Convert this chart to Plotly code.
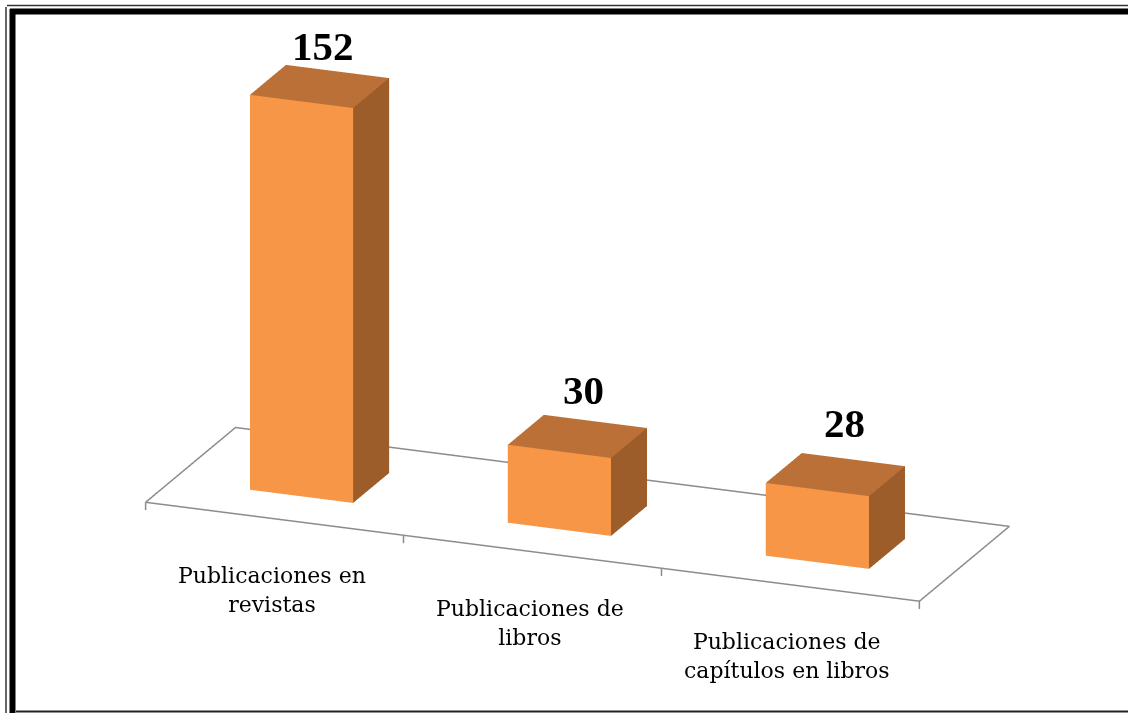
import plotly.graph_objects as go

# ---- data ----
categories = ["Publicaciones en<br>revistas", "Publicaciones de<br>libros",
              "Publicaciones de<br>capítulos en libros"]
values = [152, 30, 28]
value_labels = ["152", "30", "28"]

# ---- styles ----
FRONT = "#F79646"
SIDE = "#9C5D2B"
TOP = "#BA7036"
FLOOR = "#8C8C8C"
BAR_W = 0.4
BAR_D0, BAR_D1 = 0.3, 0.7
ZMIN, ZMAX = -5, 160

W, H = 1128, 713

fig = go.Figure()

# bars as 3D boxes
for i, v in enumerate(values):
    x0, x1 = i - BAR_W / 2, i + BAR_W / 2
    y0, y1 = BAR_D0, BAR_D1
    xs = [x0, x1, x1, x0, x0, x1, x1, x0]
    ys = [y0, y0, y1, y1, y0, y0, y1, y1]
    zs = [0, 0, 0, 0, v, v, v, v]
    tri = [
        (0, 1, 5, FRONT), (0, 5, 4, FRONT),
        (1, 2, 6, SIDE), (1, 6, 5, SIDE),
        (2, 3, 7, SIDE), (2, 7, 6, SIDE),
        (3, 0, 4, SIDE), (3, 4, 7, SIDE),
        (4, 5, 6, TOP), (4, 6, 7, TOP),
        (0, 1, 2, SIDE), (0, 2, 3, SIDE),
    ]
    fig.add_trace(go.Mesh3d(
        x=xs, y=ys, z=zs,
        i=[t[0] for t in tri], j=[t[1] for t in tri], k=[t[2] for t in tri],
        facecolor=[t[3] for t in tri], flatshading=True,
        lighting=dict(ambient=1, diffuse=0, specular=0, roughness=1, fresnel=0),
        hoverinfo="skip", showscale=False,
    ))

# floor outline
n = len(values)
fx = [-0.5, n - 0.5, n - 0.5, -0.5, -0.5]
fy = [0, 0, 1, 1, 0]
fig.add_trace(go.Scatter3d(x=fx, y=fy, z=[0] * 5, mode="lines",
                           line=dict(color=FLOOR, width=3), hoverinfo="skip",
                           showlegend=False))
# tick marks on front edge
for b in range(n + 1):
    fig.add_trace(go.Scatter3d(x=[b - 0.5, b - 0.5], y=[0, 0], z=[0, -3],
                               mode="lines", line=dict(color=FLOOR, width=3),
                               hoverinfo="skip", showlegend=False))

ann = []
for i, v in enumerate(values):
    ann.append(dict(x=i, y=0.5, z=v, text="<b>%s</b>" % value_labels[i],
                    showarrow=False, xanchor="center", yanchor="middle",
                    xshift=3 * i + 3, yshift=40 + 6 * i,
                    font=dict(family="Liberation Serif", size=41, color="black")))
    ann.append(dict(x=i, y=0, z=0, text=categories[i], showarrow=False,
                    xanchor="center", yanchor="middle", xshift=-3, yshift=-71,
                    font=dict(family="DejaVu Serif", size=22, color="black")))

# camera: orthographic view from front-right-above
dist = 2.48
d = (0.345, -0.880, 0.326)
c = (-0.0406, 0.0, -0.1342)
eye = dict(x=c[0] + dist * d[0], y=c[1] + dist * d[1], z=c[2] + dist * d[2])

noax = dict(visible=False, showgrid=False, zeroline=False, showbackground=False)
fig.update_layout(
    width=W, height=H,
    margin=dict(l=0, r=0, t=0, b=0),
    paper_bgcolor="white",
    showlegend=False,
    scene=dict(
        domain=dict(x=[0, 1], y=[0, 1]),
        xaxis=dict(range=[-0.51, n - 0.49], **noax),
        yaxis=dict(range=[-0.01, 1.01], **noax),
        zaxis=dict(range=[ZMIN, ZMAX], **noax),
        aspectmode="manual",
        aspectratio=dict(x=2.347, y=0.705, z=1.272),
        camera=dict(eye=eye,
                    center=dict(x=c[0], y=c[1], z=c[2]),
                    up=dict(x=0, y=0, z=1),
                    projection=dict(type="orthographic")),
        annotations=ann,
    ),
)

def px(x):
    return x / W

def py(y):
    return 1 - y / H

shapes = [
    dict(type="line", xref="paper", yref="paper", x0=px(7), x1=px(W), y0=py(5.5), y1=py(5.5),
         line=dict(color="#333", width=1.5)),
    dict(type="line", xref="paper", yref="paper", x0=px(6), x1=px(6), y0=py(7), y1=py(H),
         line=dict(color="#333", width=1.5)),
    dict(type="line", xref="paper", yref="paper", x0=px(10), x1=px(W), y0=py(11.5), y1=py(11.5),
         line=dict(color="black", width=6)),
    dict(type="line", xref="paper", yref="paper", x0=px(12.5), x1=px(12.5), y0=py(9), y1=py(H),
         line=dict(color="black", width=6)),
    dict(type="line", xref="paper", yref="paper", x0=px(16), x1=px(W), y0=py(711.5), y1=py(711.5),
         line=dict(color="#222", width=2)),
]
fig.update_layout(shapes=shapes)

fig.write_html("out.html", config=dict(displayModeBar=False),
               post_script="document.body.style.margin='0';")
